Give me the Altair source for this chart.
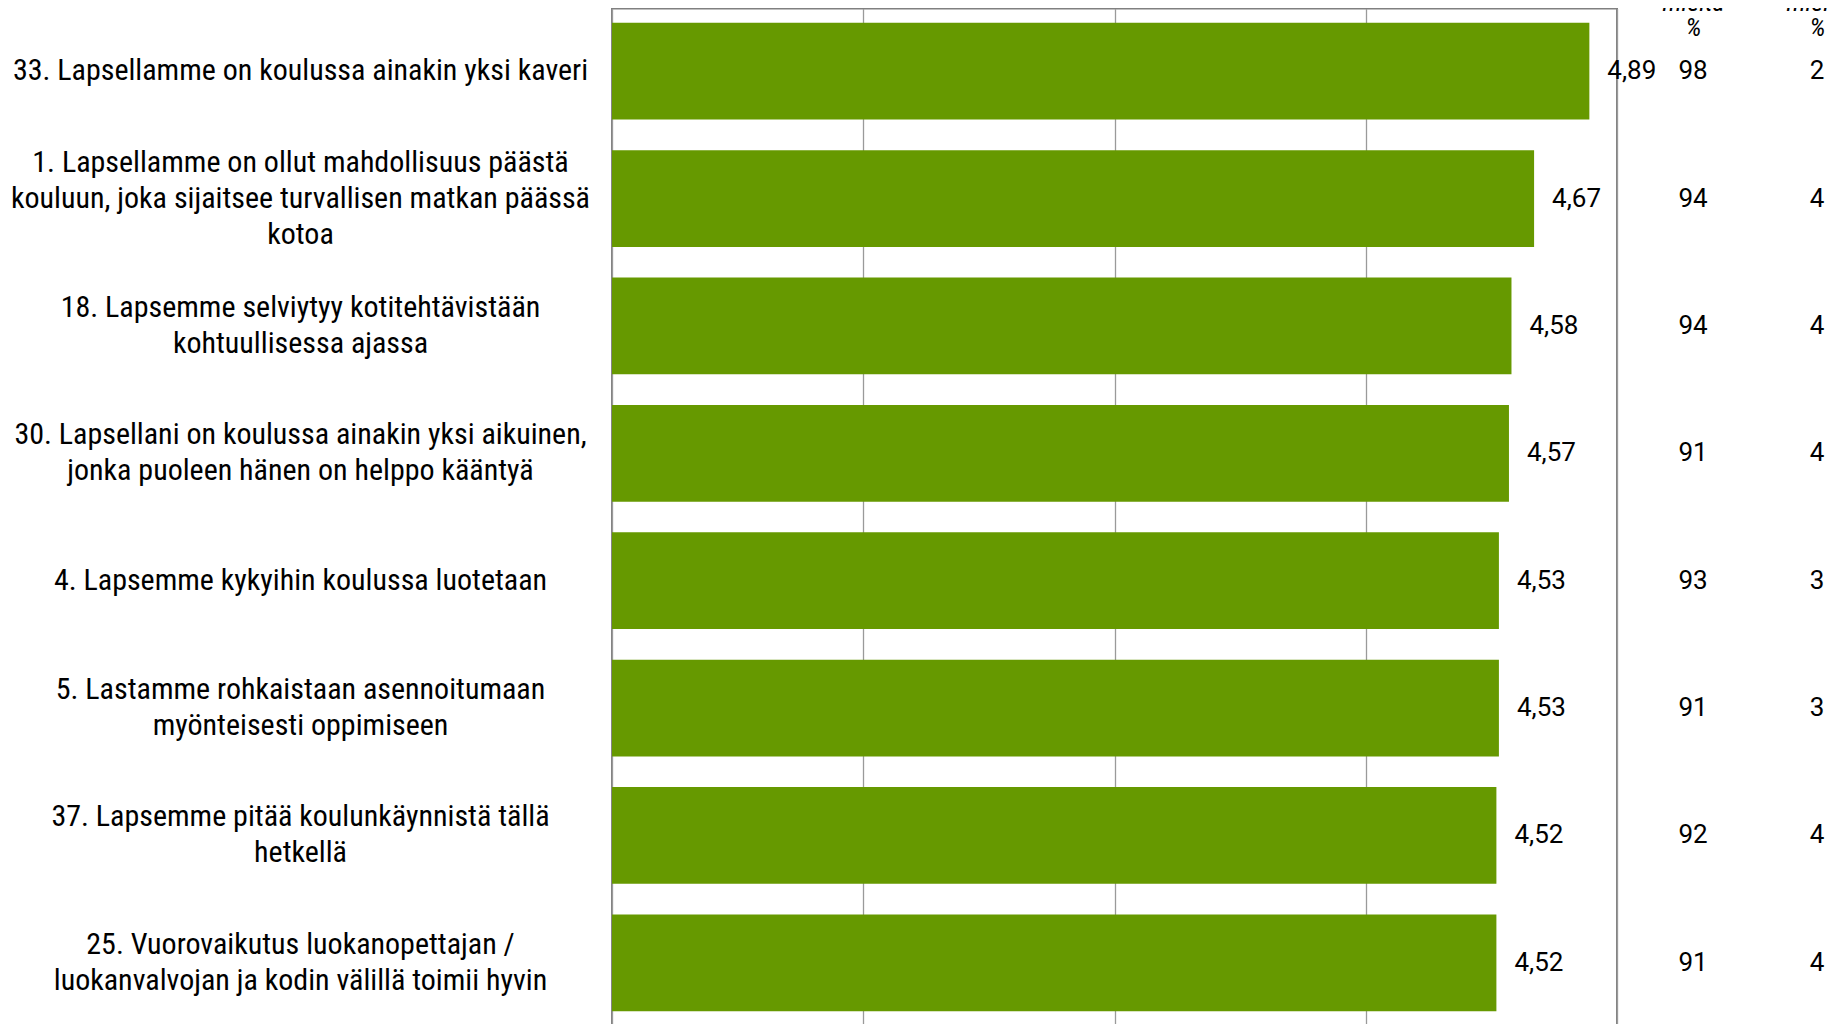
import altair as alt
import pandas as pd

# ---- data ----
questions = [
    "33. Lapsellamme on koulussa ainakin yksi kaveri",
    "1. Lapsellamme on ollut mahdollisuus päästä\nkouluun, joka sijaitsee turvallisen matkan päässä\nkotoa",
    "18. Lapsemme selviytyy kotitehtävistään\nkohtuullisessa ajassa",
    "30. Lapsellani on koulussa ainakin yksi aikuinen,\njonka puoleen hänen on helppo kääntyä",
    "4. Lapsemme kykyihin koulussa luotetaan",
    "5. Lastamme rohkaistaan asennoitumaan\nmyönteisesti oppimiseen",
    "37. Lapsemme pitää koulunkäynnistä tällä\nhetkellä",
    "25. Vuorovaikutus luokanopettajan /\nluokanvalvojan ja kodin välillä toimii hyvin",
]
means = [4.89, 4.67, 4.58, 4.57, 4.53, 4.53, 4.52, 4.52]
agree_pct = [98, 94, 94, 91, 93, 91, 92, 91]
disagree_pct = [2, 4, 4, 4, 3, 3, 4, 4]
table_columns = ["Samaa mieltä %", "Eri mieltä %"]
axis_ticks = [1, 2, 3, 4, 5]

df = pd.DataFrame({"question": questions, "mean": means})
df_table = pd.DataFrame(
    [{"question": q, "column": table_columns[0], "value": a} for q, a in zip(questions, agree_pct)]
    + [{"question": q, "column": table_columns[1], "value": d} for q, d in zip(questions, disagree_pct)]
)

LABEL_FONT = "Roboto Condensed"
NUM_FONT = "Roboto"
GREEN = "#669900"
LINE_H = 36

# multi-line labels: centre the block of lines on the band
label_offset = {
    "condition": [
        {"test": "length(split(datum.value, '\\n')) == 3", "value": -LINE_H},
        {"test": "length(split(datum.value, '\\n')) == 2", "value": -LINE_H / 2},
    ],
    "value": 0,
}

y_enc = alt.Y(
    "question:N",
    sort=questions,
    scale=alt.Scale(paddingInner=0.24, paddingOuter=0.112),
    axis=alt.Axis(
        title=None,
        labelExpr="split(datum.label, '\\n')",
        labelFont=LABEL_FONT,
        labelFontSize=30,
        labelLineHeight=LINE_H,
        labelLimit=1000,
        labelPadding=312,
        labelAlign="center",
        labelBaseline="middle",
        labelOffset=label_offset,
        labelOverlap=False,
        labelColor="#000000",
        ticks=False,
        domain=False,
    ),
)

x_enc = alt.X(
    "mean:Q",
    scale=alt.Scale(domain=[1, 5], nice=False, zero=False),
    axis=alt.Axis(
        values=axis_ticks,
        grid=True,
        gridColor="#9a9a9a",
        gridWidth=1.3,
        title=None,
        domain=False,
        ticks=False,
        labels=False,
    ),
)

bars = alt.Chart(df).mark_bar(color=GREEN).encode(
    x=x_enc,
    x2=alt.datum(1),
    y=y_enc,
)

value_labels = (
    alt.Chart(df)
    .transform_calculate(mean_label="replace(format(datum.mean, '.2f'), '.', ',')")
    .mark_text(align="left", baseline="middle", dx=18, font=NUM_FONT, fontSize=26, color="#000000")
    .encode(x=x_enc, y=y_enc, text="mean_label:N")
)

table = alt.Chart(df_table).mark_text(
    align="center", baseline="middle", font=NUM_FONT, fontSize=26, color="#000000"
).encode(
    x=alt.X(
        "column:N",
        sort=table_columns,
        scale=alt.Scale(type="point", domain=table_columns, range=[1081, 1205], padding=0),
        axis=alt.Axis(
            orient="top",
            title=None,
            domain=False,
            ticks=False,
            grid=False,
            labelAngle=0,
            labelOverlap=False,
            labelExpr="split(datum.label, ' ')",
            labelFont=LABEL_FONT,
            labelFontStyle="italic",
            labelFontSize=26,
            labelLineHeight=25,
            labelBaseline="bottom",
            labelPadding=18,
            labelColor="#000000",
        ),
    ),
    y=y_enc,
    text="value:Q",
)

chart = (
    alt.layer(alt.layer(bars, value_labels), table)
    .resolve_scale(x="independent")
    .resolve_axis(x="independent")
    .properties(
        width=1005,
        height=1017,
        autosize=alt.AutoSizeParams(type="none"),
        padding={"left": 604, "top": 0.5, "right": 210, "bottom": 0},
    )
    .configure_view(stroke="#808080", strokeWidth=2)
)

chart.save("out.html", embed_options={"renderer": "svg", "actions": False})
